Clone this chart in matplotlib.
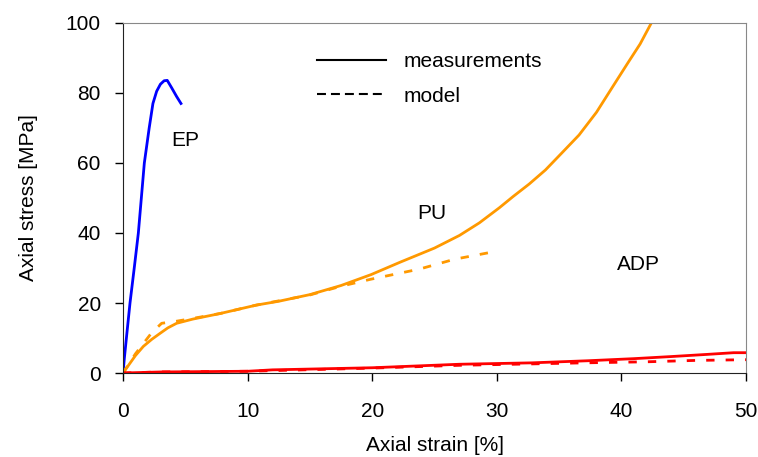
import matplotlib
matplotlib.use("Agg")
import matplotlib.pyplot as plt
from matplotlib.lines import Line2D

plt.rcParams['font.family'] = ['Liberation Sans', 'DejaVu Sans']

# EP (epoxy) - measurements
ep_strain = [0.0, 0.1, 0.3, 0.56, 0.9, 1.23, 1.47, 1.71, 2.1, 2.4, 2.7, 3.0, 3.3, 3.55, 3.9, 4.3, 4.65]
ep_stress = [0.0, 4.0, 11.0, 20.0, 30.0, 40.0, 50.0, 60.0, 70.0, 77.0, 80.5, 82.5, 83.5, 83.6, 81.5, 79.0, 77.0]

# PU - measurements and model
pu_strain = [0.0, 0.5, 1.0, 1.63, 2.3, 2.96, 3.6, 4.3, 5.6, 7.8, 10.7, 12.5, 15.0, 17.5, 19.9, 22.2,
             25.0, 27.0, 28.6, 30.2, 31.3, 32.6, 33.9, 35.2, 36.6, 38.0, 39.3, 40.5, 41.5, 42.4]
pu_stress = [0.0, 2.5, 5.0, 7.6, 9.6, 11.3, 12.9, 14.2, 15.4, 17.0, 19.4, 20.5, 22.4, 25.0, 28.1, 31.6,
             35.7, 39.3, 42.9, 47.2, 50.4, 54.0, 58.0, 62.8, 68.0, 74.5, 81.8, 88.5, 94.0, 100.0]
pu_model_strain = [0.0, 1.0, 2.3, 3.1, 4.3, 5.6, 7.8, 10.7, 15.0, 17.5, 19.9, 23.8, 26.6, 29.4]
pu_model_stress = [0.0, 5.5, 11.5, 14.2, 14.8, 15.6, 17.0, 19.4, 22.3, 24.8, 26.8, 29.7, 32.5, 34.4]

# ADP - measurements and model
adp_strain = [0.0, 3.0, 10.0, 12.0, 20.0, 27.0, 32.8, 37.3, 41.0, 44.0, 46.8, 49.0, 50.0]
adp_stress = [0.0, 0.3, 0.5, 0.9, 1.5, 2.5, 2.9, 3.5, 4.1, 4.7, 5.3, 5.8, 5.8]
adp_model_strain = [0.0, 3.0, 10.0, 20.0, 27.0, 32.8, 37.0, 42.0, 46.0, 50.0]
adp_model_stress = [0.0, 0.3, 0.5, 1.4, 2.2, 2.6, 2.9, 3.2, 3.6, 3.8]

fig = plt.figure(figsize=(7.58, 4.57), dpi=100)
ax = fig.add_axes([0.1623, 0.1838, 0.8219, 0.7659])

ax.plot(ep_strain, ep_stress, '-', color='#0000ff', lw=2)
ax.plot(pu_strain, pu_stress, '-', color='#ff9900', lw=2)
ax.plot(pu_model_strain, pu_model_stress, '--', color='#ff9900', lw=2, dashes=(3, 4))
ax.plot(adp_strain, adp_stress, '-', color='#ff0000', lw=2)
ax.plot(adp_model_strain, adp_model_stress, '--', color='#ff0000', lw=2, dashes=(3, 4))

ax.text(5.0, 66.5, 'EP', fontsize=15, ha='center', va='center')
ax.text(24.8, 45.7, 'PU', fontsize=15, ha='center', va='center')
ax.text(41.4, 31.0, 'ADP', fontsize=15, ha='center', va='center')

handles = [Line2D([], [], color='black', lw=1.5, ls='-'),
           Line2D([], [], color='black', lw=1.5, ls=(0, (4.3, 2.4)))]
ax.legend(handles, ['measurements', 'model'], loc='upper left', bbox_to_anchor=(0.282, 0.97),
          frameon=False, fontsize=15, handlelength=3.27, handletextpad=0.87, labelspacing=0.74)

ax.set_xlim(0, 50)
ax.set_ylim(0, 100)
ax.set_xticks([0, 10, 20, 30, 40, 50])
ax.set_yticks([0, 20, 40, 60, 80, 100])
ax.tick_params(direction='out', length=6, width=1, labelsize=15)
ax.tick_params(axis='x', pad=15)
ax.tick_params(axis='y', pad=10)
ax.set_xlabel('Axial strain [%]', fontsize=15, labelpad=11)
ax.set_ylabel('Axial stress [MPa]', fontsize=15, labelpad=20)

for s in ['left', 'bottom']:
    ax.spines[s].set_color('#222222')
for s in ['top', 'right']:
    ax.spines[s].set_color('#888888')

fig.savefig('out.png', dpi=100)
